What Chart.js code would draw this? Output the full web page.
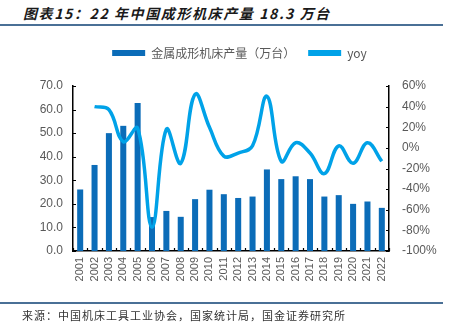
<!DOCTYPE html>
<html>
<head>
<meta charset="utf-8">
<script src="https://cdn.jsdelivr.net/npm/chart.js@4/dist/chart.umd.min.js"></script>
<style>
  html, body { margin: 0; padding: 0; background: #fff; }
  #wrap { position: relative; width: 449px; height: 326px; overflow: hidden; }
  #title {
    position: absolute; left: 23px; top: 3px; white-space: nowrap;
    font-family: "Noto Sans CJK SC", sans-serif; font-size: 14px; font-weight: bold;
    font-style: italic; letter-spacing: 1.6px; color: #1a1a1a;
  }
  .rule { position: absolute; left: 0; width: 443px; height: 2px; background: #4a7096; }
  #source {
    position: absolute; left: 22px; top: 307px; white-space: nowrap;
    font-family: "Noto Sans CJK SC", sans-serif; font-size: 11px; letter-spacing: 1.0px; color: #333;
  }
  #cv { position: absolute; left: 0; top: 0; }
</style>
</head>
<body>
<div id="wrap">
  <div id="title">图表15：22 年中国成形机床产量 18.3 万台</div>
  <div class="rule" style="top:24px"></div>
  <canvas id="cv" width="449" height="326"></canvas>
  <div class="rule" style="top:302px"></div>
  <div id="source">来源：中国机床工具工业协会，国家统计局，国金证券研究所</div>
</div>
<script>
// Years on the category axis
const years = ['2001','2002','2003','2004','2005','2006','2007','2008','2009','2010','2011',
               '2012','2013','2014','2015','2016','2017','2018','2019','2020','2021','2022'];
// Metal forming machine tool output, 10k units
const output = [26.1, 36.5, 50.0, 53.1, 62.8, 14.4, 17.0, 14.5, 22.0, 26.0, 24.1,
                22.5, 23.1, 34.6, 30.5, 31.7, 30.5, 23.1, 23.7, 20.0, 21.0, 18.3];
// Year-over-year change, %
const yoy = [null, 40, 37, 6, 19, -77, 18, -15, 52, 20, -8,
             -5, 2, 50, -13, 5, -5, -25, 2, -15, 5, -13];
// Series names
const barName = '金属成形机床产量（万台）';
const lineName = 'yoy';

const grey = '#595959';
const tickFont = { family: '"Liberation Sans", Arial, sans-serif', size: 12 };

// Short inward tick marks on all three axes
const innerTicks = {
  id: 'innerTicks',
  afterDraw(chart) {
    const ctx = chart.ctx;
    const a = chart.chartArea;
    const len = 3;
    ctx.save();
    ctx.strokeStyle = '#000';
    ctx.lineWidth = 1.2;
    ctx.beginPath();
    const x = chart.scales.x;
    const n = x.ticks.length;
    const step = n > 1 ? x.getPixelForTick(1) - x.getPixelForTick(0) : 0;
    for (let i = 0; i <= n; i++) {
      const px = Math.round(x.getPixelForTick(0) - step / 2 + i * step) + 0.5;
      ctx.moveTo(px, a.bottom);
      ctx.lineTo(px, a.bottom - len);
    }
    const yl = chart.scales.y;
    yl.ticks.forEach((t, i) => {
      const py = Math.round(yl.getPixelForTick(i)) + 0.5;
      ctx.moveTo(a.left, py);
      ctx.lineTo(a.left + len, py);
    });
    const yr = chart.scales.y1;
    yr.ticks.forEach((t, i) => {
      const py = Math.round(yr.getPixelForTick(i)) + 0.5;
      ctx.moveTo(a.right, py);
      ctx.lineTo(a.right - len, py);
    });
    ctx.stroke();
    ctx.restore();
  }
};

new Chart(document.getElementById('cv'), {
  data: {
    labels: years,
    datasets: [
      {
        type: 'bar',
        label: barName,
        data: output,
        yAxisID: 'y',
        backgroundColor: '#0b6cb8',
        borderWidth: 0,
        barPercentage: 0.42,
        categoryPercentage: 1.0,
        order: 1
      },
      {
        type: 'line',
        label: lineName,
        data: yoy,
        yAxisID: 'y1',
        borderColor: '#00a2e8',
        backgroundColor: '#00a2e8',
        borderWidth: 3.5,
        pointRadius: 0,
        tension: 0.4,
        fill: false,
        order: 0
      }
    ]
  },
  options: {
    responsive: false,
    animation: false,
    devicePixelRatio: 1,
    layout: { padding: { left: 30, right: 0, top: 34, bottom: 0 } },
    plugins: {
      tooltip: { enabled: false },
      // blank spacer between the legend and the plot area
      title: {
        display: true,
        text: '',
        weight: 500,
        font: { size: 1, lineHeight: 1 },
        padding: { top: 16, bottom: 0 }
      },
      legend: {
        position: 'top',
        align: 'center',
        labels: {
          boxWidth: 33,
          boxHeight: 6,
          padding: 13,
          color: grey,
          font: { family: '"Noto Sans CJK SC", sans-serif', size: 12 },
          sort: (a, b) => a.datasetIndex - b.datasetIndex,
          generateLabels(chart) {
            return chart.data.datasets.map((ds, i) => ({
              text: ds.label,
              fillStyle: ds.type === 'line' ? ds.borderColor : ds.backgroundColor,
              strokeStyle: ds.type === 'line' ? ds.borderColor : ds.backgroundColor,
              lineWidth: 0,
              fontColor: grey,
              hidden: false,
              datasetIndex: i
            }));
          }
        }
      }
    },
    scales: {
      x: {
        grid: { display: false, offset: true, drawTicks: false },
        border: { color: '#000', width: 1.5 },
        ticks: {
          color: grey,
          font: { family: '"Liberation Sans", Arial, sans-serif', size: 11 },
          minRotation: 90,
          maxRotation: 90,
          autoSkip: false,
          padding: 6
        },
        afterFit(s) { s.height = 326 - 251; }
      },
      y: {
        position: 'left',
        min: 0,
        max: 70,
        grid: { display: false, drawTicks: false },
        border: { color: '#000', width: 1.5 },
        ticks: {
          stepSize: 10,
          color: grey,
          font: tickFont,
          padding: 10,
          callback: v => v.toFixed(1)
        },
        afterFit(s) { s.width = 73 - 30; }
      },
      y1: {
        position: 'right',
        min: -100,
        max: 60,
        grid: { display: false, drawTicks: false },
        border: { color: '#000', width: 1.5 },
        ticks: {
          stepSize: 20,
          color: grey,
          font: tickFont,
          padding: 13,
          callback: v => v + '%'
        },
        afterFit(s) { s.width = 449 - 389; }
      }
    }
  },
  plugins: [innerTicks]
});
</script>
</body>
</html>
